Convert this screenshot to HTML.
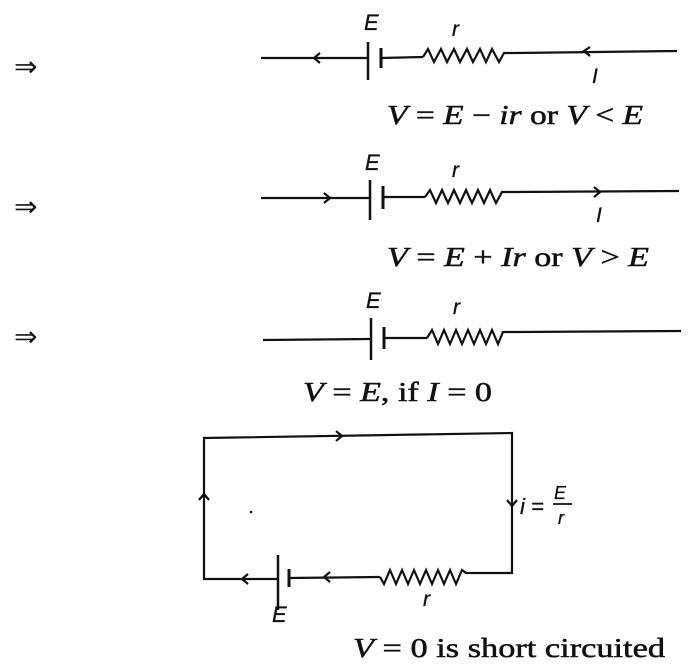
<!DOCTYPE html>
<html><head><style>body{margin:0;background:#fff}svg{display:block}</style></head>
<body>
<svg width="693" height="670" viewBox="0 0 693 670" xmlns="http://www.w3.org/2000/svg">
<g stroke="#111" stroke-width="2.2" fill="none">
<!-- circuit 1 -->
<line x1="261" y1="58" x2="368" y2="58"/>
<line x1="368" y1="42" x2="368" y2="80" stroke-width="2.5"/>
<line x1="381" y1="48" x2="381" y2="68" stroke-width="3"/>
<line x1="381" y1="58" x2="423" y2="57"/>
<polyline points="423,57 428,49 434,62 441,49 447,62 454,49 460,62 467,49 473,62 480,49 486,62 492,49 499,62 504,53 516,53"/>
<line x1="516" y1="53" x2="677" y2="51"/>
<polyline points="320,53 314,58 320,63"/>
<polyline points="590,47 584,51 590,56"/>
<!-- circuit 2 -->
<line x1="261" y1="198" x2="370" y2="198"/>
<line x1="370" y1="180" x2="370" y2="220" stroke-width="2.5"/>
<line x1="383" y1="186" x2="383" y2="209" stroke-width="3"/>
<line x1="383" y1="197" x2="425" y2="197"/>
<polyline points="425,197 430,190 436,203 442,190 448,203 454,190 460,203 466,190 472,203 478,190 484,203 490,190 496,203 502,192 515,192"/>
<line x1="515" y1="192" x2="679" y2="191"/>
<polyline points="324,193 330,198 324,203"/>
<polyline points="594,187 600,192 594,197"/>
<!-- circuit 3 -->
<line x1="263" y1="340" x2="371" y2="339"/>
<line x1="371" y1="318" x2="371" y2="360" stroke-width="2.5"/>
<line x1="384" y1="327" x2="384" y2="349" stroke-width="3"/>
<line x1="384" y1="338" x2="427" y2="338"/>
<polyline points="427,338 432,330 438,344 444,330 450,344 456,330 462,344 468,330 474,344 480,330 486,344 492,330 498,344 503,332 518,332"/>
<line x1="518" y1="332" x2="681" y2="331"/>
<!-- rectangle circuit -->
<polyline points="277,579 204,579 204,438 512,433 512,573 472,573"/>
<line x1="278" y1="555" x2="278" y2="610" stroke-width="2.5"/>
<line x1="289" y1="569" x2="289" y2="587" stroke-width="3"/>
<line x1="289" y1="578" x2="380" y2="577"/>
<polyline points="380,577 384,584 390,570 396,584 402,570 408,584 414,570 420,584 426,570 432,584 438,570 444,584 450,570 456,584 462,570 466,573 472,573"/>
<polyline points="248,574 242,579 248,584"/>
<polyline points="330,572 324,577 330,582"/>
<polyline points="336,431 342,436 336,441"/>
<polyline points="199,500 204,494 209,500"/>
<polyline points="507,500 512,506 517,500"/>
</g>
<circle cx="251" cy="512" r="1.3" fill="#111"/>
<g font-family="Liberation Serif, serif" font-size="28" fill="#111">
<text x="14" y="76">⇒</text>
<text x="14" y="216">⇒</text>
<text x="14" y="346">⇒</text>
</g>
<g font-family="Liberation Sans, sans-serif" font-style="italic" fill="#111" font-size="22" stroke="#111" stroke-width="0.3">
<text x="364" y="30">E</text>
<text x="452" y="36" font-size="21">r</text>
<text x="592" y="83" font-size="21">I</text>
<text x="365" y="170">E</text>
<text x="452" y="177" font-size="21">r</text>
<text x="596" y="222" font-size="21">I</text>
<text x="366" y="308">E</text>
<text x="453" y="314" font-size="21">r</text>
<text x="272" y="622">E</text>
<text x="423" y="606" font-size="21">r</text>
<text x="520" y="514" font-size="22">i =</text>
<text x="554" y="499" font-size="18">E</text>
<line x1="553" y1="504" x2="572" y2="504" stroke="#111" stroke-width="1.8"/>
<text x="558" y="524" font-size="18">r</text>
</g>
<g font-family="Liberation Serif, serif" fill="#111" font-size="27" stroke="#111" stroke-width="0.5">
<text x="387" y="124" textLength="256" lengthAdjust="spacingAndGlyphs"><tspan font-style="italic">V</tspan> = <tspan font-style="italic">E</tspan> − <tspan font-style="italic">ir</tspan> or <tspan font-style="italic">V</tspan> &lt; <tspan font-style="italic">E</tspan></text>
<text x="387" y="266" textLength="262" lengthAdjust="spacingAndGlyphs"><tspan font-style="italic">V</tspan> = <tspan font-style="italic">E</tspan> + <tspan font-style="italic">Ir</tspan> or <tspan font-style="italic">V</tspan> &gt; <tspan font-style="italic">E</tspan></text>
<text x="303" y="401" textLength="189" lengthAdjust="spacingAndGlyphs"><tspan font-style="italic">V</tspan> = <tspan font-style="italic">E</tspan>, if <tspan font-style="italic">I</tspan> = 0</text>
<text x="353" y="657" textLength="312" lengthAdjust="spacingAndGlyphs"><tspan font-style="italic">V</tspan> = 0 is short circuited</text>
</g>
</svg>
</body></html>
